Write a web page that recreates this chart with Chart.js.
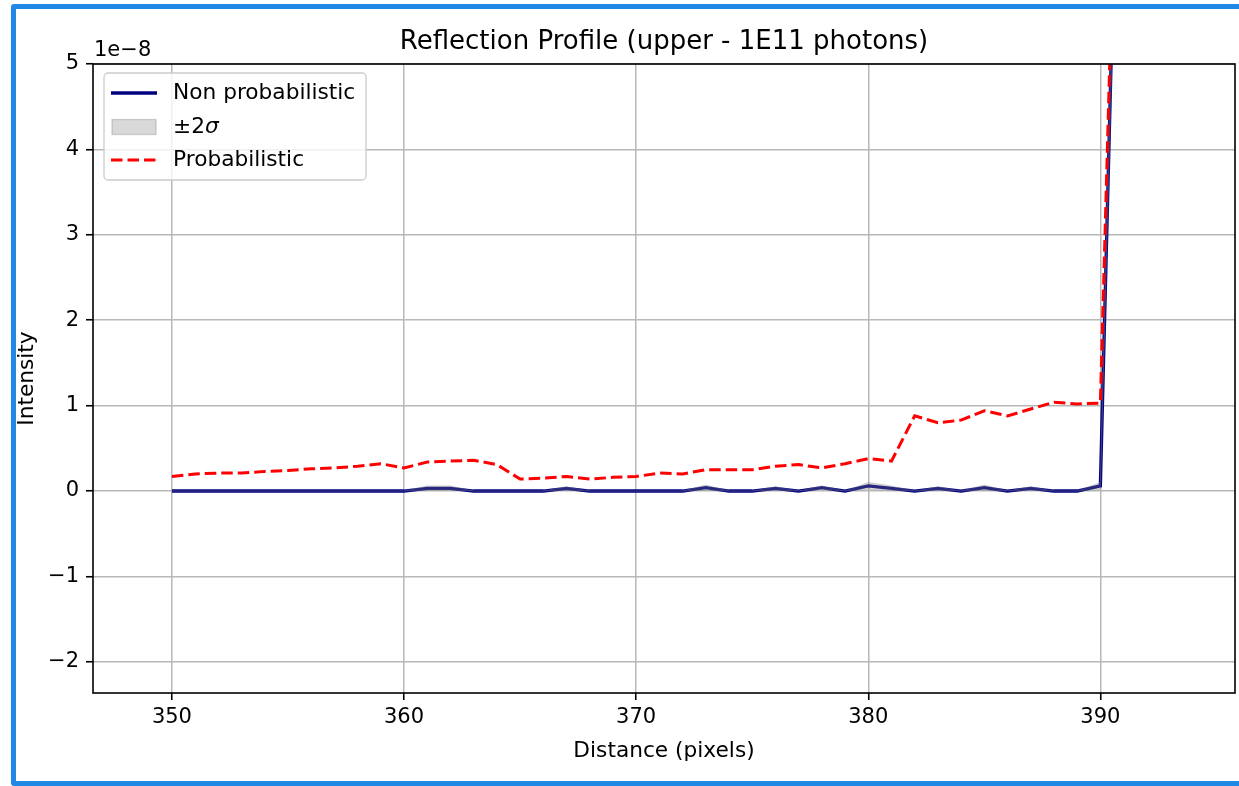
<!DOCTYPE html>
<html>
<head>
<meta charset="utf-8">
<script src="https://cdn.jsdelivr.net/npm/chart.js@4.4.1/dist/chart.umd.min.js"></script>
<style>
  html, body { margin: 0; padding: 0; background: #fff; overflow: hidden; }
  #wrap { position: relative; width: 1239px; height: 786px; overflow: hidden; }
  #frame { position: absolute; left: 11px; top: 4px; width: 1400px; height: 782px;
           border: 5px solid #2188e6; border-radius: 3px; box-sizing: border-box; pointer-events: none; }
</style>
</head>
<body>
<div id="wrap">
  <canvas id="c"></canvas>
  <div id="frame"></div>
</div>
<script>
// ---- data (intensity in units of 1e-8) ----
const distance = [350,351,352,353,354,355,356,357,358,359,360,361,362,363,364,365,366,367,368,369,370,
                  371,372,373,374,375,376,377,378,379,380,381,382,383,384,385,386,387,388,389,390,391];
const nonProbabilistic = [0,0,0,0,0,0,0,0,0,0,0,0.03,0.03,0,0,0,0,0.03,0,0,0,
                  0,0,0.04,0,0,0.03,0,0.04,0,0.06,0.03,0,0.03,0,0.04,0,0.03,0,0,0.06,10.8];
const bandUpper = [0,0,0,0,0,0,0,0,0,0,0,0.06,0.06,0,0,0,0,0.05,0,0,0,
                  0,0,0.07,0,0,0.05,0,0.06,0,0.10,0.06,0,0.05,0,0.07,0,0.05,0,0,0.10,11.5];
const bandLower = [0,0,0,0,0,0,0,0,0,0,0,0.01,0.01,0,0,0,0,0.01,0,0,0,
                  0,0,0.01,0,0,0.01,0,0.02,0,0.02,0.01,0,0.01,0,0.01,0,0.01,0,0,0.02,10.1];
const probabilistic = [0.17,0.20,0.21,0.21,0.23,0.24,0.26,0.27,0.29,0.32,0.27,0.34,0.35,0.36,0.31,0.14,0.15,0.17,0.14,0.16,0.17,
                  0.21,0.20,0.25,0.25,0.25,0.29,0.31,0.27,0.32,0.38,0.35,0.88,0.80,0.83,0.94,0.88,0.96,1.04,1.02,1.03,10.9];
const xTicks = [350,360,370,380,390];
const yTicks = [-2,-1,0,1,2,3,4,5];
const seriesLabels = ['Non probabilistic', '\u00B12\u03C3', 'Probabilistic'];
const titleText = 'Reflection Profile (upper - 1E11 photons)';
const offsetText = '1e\u22128';

const FONT = "'DejaVu Sans', sans-serif";
const TICK = 21;
const LABEL = 21.7;
const pts = arr => distance.map((x, i) => ({x: x, y: arr[i]}));

const decor = {
  id: 'decor',
  afterDraw(chart) {
    const {ctx, chartArea: a} = chart;
    ctx.save();
    // spines
    ctx.strokeStyle = '#000';
    ctx.lineWidth = 1.6;
    ctx.strokeRect(a.left, a.top, a.right - a.left, a.bottom - a.top);
    // title
    ctx.fillStyle = '#000';
    ctx.font = "26px " + FONT;
    ctx.textAlign = 'center';
    ctx.textBaseline = 'middle';
    ctx.fillText(titleText, (a.left + a.right) / 2, 42);
    // offset text
    ctx.font = TICK + "px " + FONT;
    ctx.textAlign = 'left';
    ctx.textBaseline = 'alphabetic';
    ctx.fillText(offsetText, a.left + 1, a.top - 8);
    // legend
    const lx = a.left + 11, ly = a.top + 9, lw = 262, lh = 107;
    ctx.beginPath();
    if (ctx.roundRect) ctx.roundRect(lx, ly, lw, lh, 4); else ctx.rect(lx, ly, lw, lh);
    ctx.fillStyle = 'rgba(255,255,255,0.8)';
    ctx.fill();
    ctx.strokeStyle = '#cccccc';
    ctx.lineWidth = 1.3;
    ctx.stroke();
    const ds = chart.data.datasets;
    const entries = [ds[0], ds[1], ds[3]];
    const rows = [ly + 20, ly + 54, ly + 87];
    entries.forEach((d, i) => {
      const y = rows[i];
      if (i === 1) {
        ctx.fillStyle = 'rgba(128,128,128,0.3)';
        ctx.fillRect(lx + 8, y - 7.5, 44, 15);
        ctx.strokeStyle = 'rgba(128,128,128,0.35)';
        ctx.lineWidth = 1.3;
        ctx.strokeRect(lx + 8, y - 7.5, 44, 15);
      } else {
        ctx.strokeStyle = d.borderColor;
        ctx.lineWidth = d.borderWidth;
        ctx.setLineDash(d.borderDash || []);
        ctx.beginPath();
        ctx.moveTo(lx + 7, y);
        ctx.lineTo(lx + 53, y);
        ctx.stroke();
        ctx.setLineDash([]);
      }
      ctx.fillStyle = '#000';
      ctx.textBaseline = 'middle';
      ctx.textAlign = 'left';
      const tx = lx + 69;
      if (i === 1) {
        const main = d.label.slice(0, -1), last = d.label.slice(-1);
        ctx.font = LABEL + "px " + FONT;
        ctx.fillText(main, tx, y);
        const w = ctx.measureText(main).width;
        ctx.font = "italic " + LABEL + "px " + FONT;
        ctx.fillText(last, tx + w, y);
      } else {
        ctx.font = LABEL + "px " + FONT;
        ctx.fillText(d.label, tx, y);
      }
    });
    ctx.restore();
  }
};

new Chart(document.getElementById('c'), {
  type: 'line',
  data: {
    datasets: [
      { label: seriesLabels[0], data: pts(nonProbabilistic), borderColor: '#000080', borderWidth: 3.3,
        pointRadius: 0, fill: false, tension: 0, order: 2 },
      { label: seriesLabels[1], data: pts(bandUpper), borderColor: 'rgba(128,128,128,0.3)', borderWidth: 1,
        backgroundColor: 'rgba(128,128,128,0.3)', pointRadius: 0, fill: '+1', tension: 0, order: 1 },
      { label: '', data: pts(bandLower), borderColor: 'rgba(128,128,128,0.3)', borderWidth: 1,
        pointRadius: 0, fill: false, tension: 0, order: 1 },
      { label: seriesLabels[2], data: pts(probabilistic), borderColor: '#ff0000', borderWidth: 3,
        borderDash: [11.5, 5], pointRadius: 0, fill: false, tension: 0, order: 0 }
    ]
  },
  options: {
    responsive: true,
    maintainAspectRatio: false,
    animation: false,
    layout: { padding: { top: 64, right: 4, left: 0, bottom: 0 } },
    plugins: { legend: { display: false }, title: { display: false }, tooltip: { enabled: false } },
    scales: {
      x: {
        type: 'linear', min: 346.6, max: 395.8,
        afterBuildTicks: s => { s.ticks = xTicks.map(v => ({value: v})); },
        afterFit: s => { s.height = 93; },
        grid: { color: '#b8b8b8', lineWidth: 1.5, tickColor: '#000', tickLength: 7, tickWidth: 1.6 },
        border: { display: false },
        ticks: { color: '#000', font: { family: FONT, size: TICK }, padding: 5, maxRotation: 0,
                 callback: v => String(v) },
        title: { display: true, text: 'Distance (pixels)', color: '#000',
                 font: { family: FONT, size: LABEL }, padding: { top: 0, bottom: 22 } }
      },
      y: {
        type: 'linear', min: -2.365, max: 5,
        afterBuildTicks: s => { s.ticks = yTicks.map(v => ({value: v})); },
        afterFit: s => { s.width = 93; },
        grid: { color: '#b8b8b8', lineWidth: 1.5, tickColor: '#000', tickLength: 7, tickWidth: 1.6 },
        border: { display: false },
        ticks: { color: '#000', font: { family: FONT, size: TICK }, padding: 7,
                 callback: v => String(v).replace('-', '\u2212') },
        title: { display: true, text: 'Intensity', color: '#000',
                 font: { family: FONT, size: LABEL }, padding: { top: 14, bottom: 0 } }
      }
    }
  },
  plugins: [decor]
});
</script>
</body>
</html>
